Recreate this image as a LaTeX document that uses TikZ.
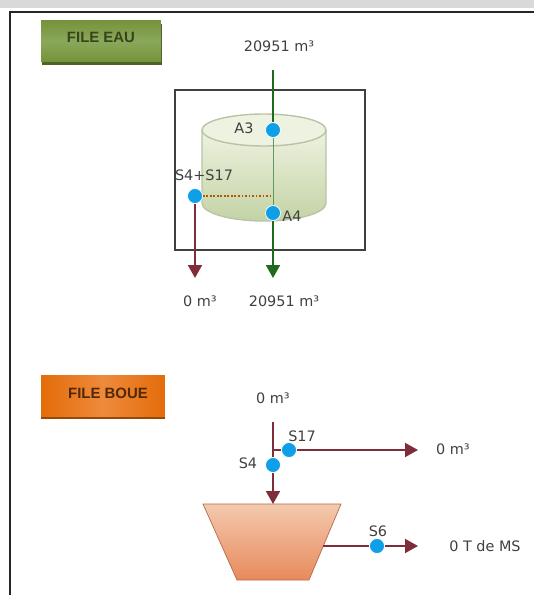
\documentclass[tikz,border=0pt]{standalone}
\usepackage{fontspec}
\setmainfont{DejaVu Sans}
\newfontfamily\boxfont{Liberation Sans}
\usetikzlibrary{arrows.meta,shadows}

\begin{document}
\begin{tikzpicture}[
    x=0.02cm, y=-0.02cm,
    font=\fontsize{8.2}{10}\selectfont,
    lbl/.style={text=black!75, inner sep=0pt},
    filebox/.style={minimum width=2.4cm, minimum height=0.82cm, inner sep=0pt,
                    font=\fontsize{8.5}{10}\boxfont\bfseries},
    point/.style={circle, fill=pointblue, draw=white, line width=0.4pt,
                  inner sep=0pt, minimum size=0.3cm},
    water/.style={-{Triangle[length=2.6mm, width=2.8mm]}, draw=watergreen, line width=1.1pt},
    sludge/.style={-{Triangle[length=2.6mm, width=2.8mm]}, draw=sludgered, line width=1.1pt},
  ]
  \definecolor{pointblue}{HTML}{0F9EE8}
  \definecolor{watergreen}{HTML}{1E6B1E}
  \definecolor{sludgered}{HTML}{7F2D3A}
  \definecolor{eaubox}{HTML}{76923C}
  \definecolor{eaumid}{HTML}{8AA85A}
  \definecolor{eaushadow}{HTML}{4F6228}
  \definecolor{boueedge}{HTML}{E36C0A}
  \definecolor{bouemid}{HTML}{EE8A3C}
  \definecolor{boueshadow}{HTML}{984807}
  \definecolor{tanktop}{HTML}{EEF2E0}
  \definecolor{tankbottom}{HTML}{C3D3A5}
  \definecolor{tankedge}{HTML}{B9C4A6}
  \definecolor{hoppertone}{HTML}{F3C9AE}
  \definecolor{hopperbase}{HTML}{E88A5C}
  \definecolor{hopperedge}{HTML}{B5694A}

  \useasboundingbox (0,0) rectangle (534,595);
  \fill[black!15] (0,0) rectangle (534,8);
  \draw[black!85, line width=1pt] (10,595) -- (10,12) -- (534,12);

  % file eau
  \node[filebox, general shadow={fill=eaushadow, shadow yshift=-0.7mm, shadow xshift=0.2mm},
        top color=eaubox, bottom color=eaubox, middle color=eaumid,
        text=eaushadow!70!black] (eau) at (101,41) {\raisebox{1.5mm}{FILE EAU}};
  \draw[black!75, line width=0.8pt] (175,90) rectangle (365,250);
  \shade[top color=tanktop, bottom color=tankbottom]
    (202,130) -- (202,203) arc[start angle=180, end angle=0, x radius=62, y radius=18]
    -- (326,130) -- cycle;
  \draw[tankedge, line width=0.8pt] (202,130) -- (202,203)
    arc[start angle=180, end angle=0, x radius=62, y radius=18] -- (326,130);
  \filldraw[fill=tanktop, draw=tankedge, line width=0.8pt]
    (264,130) ellipse[x radius=62, y radius=16];

  \node[point] (A3) at (273,130) {};
  \node[point] (A4) at (273,213) {};
  \node[point] (S4S17) at (195,196) {};
  \coordinate (eauin) at (273,70);
  \coordinate (eauout) at (273,278);
  \coordinate (rejet) at (195,278);
  \coordinate (coude) at (273,196);

  \draw[watergreen, line width=1.1pt] (eauin) -- (A3);
  \draw[watergreen!70, line width=0.5pt] (A3) -- (A4);
  \draw[water] (A4) -- (eauout);
  \draw[sludge] (S4S17) -- (rejet);
  \draw[orange!70!black, densely dotted, line width=1pt] (S4S17) -- (coude);

  \node[lbl] (vola) at (279,46) {20951 m³};
  \node[lbl] (volb) at (200,301) {0 m³};
  \node[lbl] (volc) at (284,301) {20951 m³};
  \node[lbl] (labA3) at (244,128) {A3};
  \node[lbl] (labS4S17) at (204,175) {S4+S17};
  \node[lbl] (labA4) at (292,216) {A4};

  % file boue
  \node[filebox, minimum width=2.48cm, general shadow={fill=boueshadow, shadow yshift=-0.5mm},
        left color=boueedge, right color=boueedge, middle color=bouemid,
        text=boueshadow!55!black] (boue) at (103,396) {\raisebox{1mm}{\hspace{2mm}FILE BOUE}};
  \shade[top color=hoppertone, bottom color=hopperbase, draw=hopperedge]
    (203,504) -- (341,504) -- (309,580) -- (237,580) -- cycle;
  \coordinate (hoppertop) at (273,504);
  \coordinate (hopperside) at (323,546);
  \node[point] (S4) at (273,465) {};
  \node[point] (S17) at (289,450) {};
  \node[point] (S6) at (377,546) {};
  \coordinate (boin) at (273,422);
  \coordinate (bohor) at (273,450);
  \coordinate (boout) at (418,450);
  \coordinate (msout) at (418,546);

  \draw[sludgered, line width=1.1pt] (boin) -- (S4);
  \draw[sludge] (S4) -- (hoppertop);
  \draw[sludgered, line width=1.1pt] (bohor) -- (S17);
  \draw[sludge] (S17) -- (boout);
  \draw[sludgered, line width=1.1pt] (hopperside) -- (S6);
  \draw[sludge] (S6) -- (msout);

  \node[lbl] (vold) at (273,398) {0 m³};
  \node[lbl] (labS17) at (302,436) {S17};
  \node[lbl] (labS4) at (248,463) {S4};
  \node[lbl] (vole) at (453,449) {0 m³};
  \node[lbl] (labS6) at (378,531) {S6};
  \node[lbl] (masse) at (485,546) {0 T de MS};
\end{tikzpicture}
\end{document}
